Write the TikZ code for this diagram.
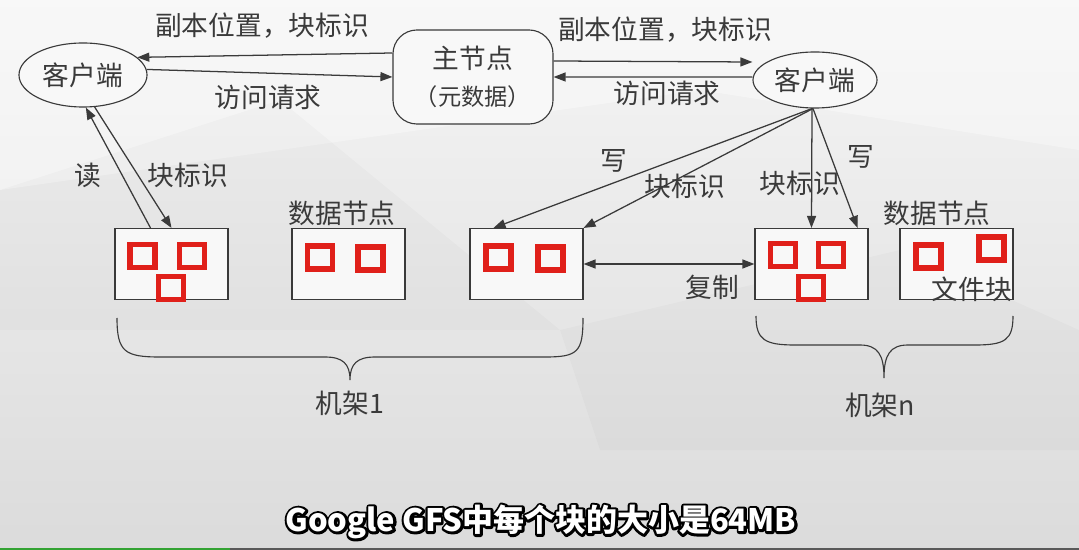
\documentclass[tikz,border=0pt]{standalone}
\usepackage{fontspec}
\setmainfont{Noto Sans CJK SC}
\usetikzlibrary{arrows.meta,shapes.geometric,positioning}
\definecolor{inkgray}{HTML}{3A3A3A}
\definecolor{blkred}{HTML}{E0201A}
\definecolor{boxfill}{HTML}{F8F8F8}
\tikzset{
  lbl/.style={font=\fontsize{19}{22}\selectfont, text=inkgray, inner sep=0pt},
  arr/.style={draw=inkgray, line width=0.9pt, -{Triangle[length=0.3cm,width=0.225cm]}},
  darr/.style={draw=inkgray, line width=0.9pt, {Triangle[length=0.3cm,width=0.225cm]}-{Triangle[length=0.3cm,width=0.225cm]}},
  client/.style={ellipse, draw=inkgray, line width=0.8pt, fill=boxfill, minimum width=3.2cm, minimum height=1.6cm, inner sep=0pt, font=\fontsize{19}{22}\selectfont, text=inkgray},
  masterbox/.style={rectangle, rounded corners=0.6cm, draw=inkgray, line width=0.8pt, fill=boxfill, minimum width=4cm, minimum height=2.35cm, align=center, font=\fontsize{19}{22}\selectfont, text=inkgray},
  dnode/.style={rectangle, draw=inkgray, line width=0.8pt, fill=boxfill, minimum width=2.825cm, minimum height=1.775cm, inner sep=0pt},
  blk/.style={rectangle, draw=blkred, line width=0.14cm, fill=boxfill, minimum width=0.62cm, minimum height=0.57cm, inner sep=0pt},
  brc/.style={draw=inkgray, line width=0.8pt},
  caption/.style={font=\fontsize{22}{26}\selectfont\bfseries, inner sep=0pt},
}
\begin{document}
\begin{tikzpicture}[x=0.025cm, y=-0.025cm]
  %% ── Background ───────────────────────────────────────────
  \useasboundingbox (0,0) rectangle (1079,550);
  \shade[top color=white!96!black, bottom color=white!86!black] (0,0) rectangle (1079,550);
  \fill[white, opacity=0.35] (0,0) -- (1079,0) -- (1079,150) -- (700,90) -- (0,190) -- cycle;
  \fill[black, opacity=0.02] (0,190) -- (280,100) -- (560,330) -- (0,330) -- cycle;
  \fill[black, opacity=0.02] (560,330) -- (900,250) -- (1079,330) -- (1079,450) -- (600,450) -- cycle;
  %% progress bar
  \fill[green!55!black!80] (0,548) rectangle (230,550);
  \fill[gray!70!black] (230,548) rectangle (1079,550);

  %% ── Clients and master ───────────────────────────────────
  \node[client] (cl) at (83,75) {客户端};
  \node[client, minimum width=3.1cm, minimum height=1.4cm] (cr) at (815,80) {客户端};
  \node[masterbox] (master) at (473,77)
    {主节点\\[4pt]{\fontsize{16.5}{18}\selectfont （元数据）}};

  %% ── Data nodes and file blocks ───────────────────────────
  \foreach \x/\nm in {171.5/b1, 348.5/b2, 526.5/b3, 811.5/b4, 956.5/b5}{
    \node[dnode] (\nm) at (\x,264) {};
  }
  \foreach \x/\y [count=\i] in {142.5/256, 192/256, 171/288,
                                320/257.5, 370.5/258.5,
                                498.5/257.5, 550.5/258.5,
                                783/255, 831/255, 811/288,
                                928.5/256.5, 991.5/248.5}{
    \node[blk] (blk\i) at (\x,\y) {};
  }

  %% ── Client <-> master ────────────────────────────────────
  \draw[arr] ([yshift=0.6cm]master.west) -- (cl.18);
  \draw[arr] (cl.5) -- (master.west);
  \draw[arr] ([yshift=0.4cm]master.east) -- ([yshift=0.45cm]cr.west);
  \draw[arr] ([yshift=0.075cm]cr.west) -- (master.east);
  \node[lbl] (lpos1) at (262,26) {副本位置，块标识};
  \node[lbl] (lreq1) at (268,97) {访问请求};
  \node[lbl] (lpos2) at (665,30) {副本位置，块标识};
  \node[lbl] (lreq2) at (667,93) {访问请求};

  %% ── Read ─────────────────────────────────────────────────
  \draw[arr] ([xshift=-0.525cm]b1.north) -- (cl.-85);
  \draw[arr] (cl.-70) -- (b1.north);
  \node[lbl] (lread) at (88,175) {读};
  \node[lbl] (lid1) at (188,175) {块标识};

  %% ── Write ────────────────────────────────────────────────
  \draw[arr] ([xshift=-0.075cm]cr.south) -- ([xshift=-0.825cm]b3.north);
  \draw[arr] ([xshift=-0.05cm]cr.south) -- (b3.north east);
  \draw[arr] ([xshift=-0.075cm]cr.south) -- (b4.north);
  \draw[arr] ([xshift=-0.05cm]cr.south) -- ([xshift=-0.275cm]b4.north east);
  \node[lbl] (lwr1) at (614,161) {写};
  \node[lbl] (lid2) at (685,186) {块标识};
  \node[lbl] (lid3) at (800,183) {块标识};
  \node[lbl] (lwr2) at (861,157) {写};

  %% ── Replication ──────────────────────────────────────────
  \draw[darr] (b3.east) -- (b4.west);
  \node[lbl] (lcopy) at (712,287) {复制};

  %% ── Node labels ──────────────────────────────────────────
  \node[lbl] (ldn1) at (342,213) {数据节点};
  \node[lbl] (ldn2) at (937,213) {数据节点};
  \node[lbl] (lfile) at (972,289) {文件块};

  %% ── Racks ────────────────────────────────────────────────
  \draw[brc] (117,318) .. controls (117,352) and (125,357) .. (160,357)
    -- (325,357) .. controls (343,357) and (350,364) .. (350,380)
    .. controls (350,364) and (357,357) .. (375,357)
    -- (545,357) .. controls (578,357) and (583,352) .. (583,318);
  \draw[brc] (756,316) .. controls (756,340) and (765,345) .. (795,345)
    -- (860,345) .. controls (878,345) and (884,355) .. (884,378)
    .. controls (884,355) and (890,345) .. (908,345)
    -- (975,345) .. controls (1005,345) and (1013,340) .. (1013,316);
  \node[lbl] (rack1) at (350,403) {机架1};
  \node[lbl] (rackn) at (880,405) {机架n};

  %% ── Caption (stroked halo, then white text) ──────────────
  \node[caption, text=black] (halo) at (541,522)
    {\special{pdf:literal direct 1 Tr 3.5 w 1 j}Google GFS中每个块的大小是64MB\special{pdf:literal direct 0 Tr}};
  \node[caption, text=white] (cap) at (halo) {Google GFS中每个块的大小是64MB};
\end{tikzpicture}
\end{document}
